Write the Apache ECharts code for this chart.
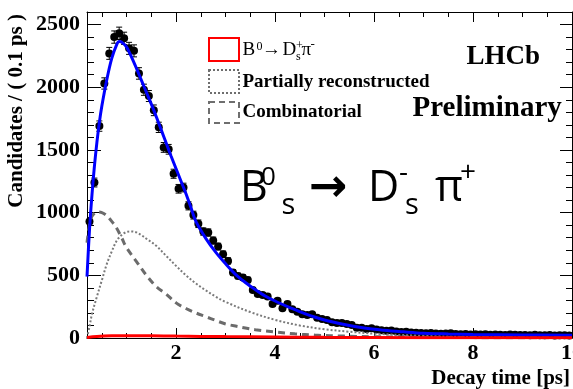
<!DOCTYPE html>
<html><head><meta charset="utf-8">
<script src="https://cdn.jsdelivr.net/npm/echarts@6/dist/echarts.min.js"></script>
<style>html,body{margin:0;padding:0;background:#fff}#c{width:573px;height:389px}</style>
</head><body><div id="c"></div>
<script>
// ---- data ----
const binWidth = 0.1;
const firstBinCenter = 0.25;
const dataCounts = [
  930,1240,1690,2030,2270,2400,2430,2390,2310,2290,
  2110,1980,1930,1816,1680,1520,1505,1310,1190,1200,
  1054,980,911,849,841,777,729,668,615,522,
  495,482,463,383,351,343,330,272,298,237,
  272,229,210,189,184,189,162,152,144,125,
  120,120,112,104,82,82,72,77,67,62,
  58,60,52,48,50,44,42,40,38,40,
  36,33,35,38,31,30,32,28,29,27,
  30,25,27,26,24,28,25,23,24,22,
  25,21,22,23,20,21,22,20
];
const fitT = [0.2,0.25,0.3,0.35,0.4,0.45,0.5,0.6,0.7,0.8,0.85,0.9,1.0,1.1,1.2,1.3,1.4,1.5,1.6,1.7,1.8,1.9,2.0,2.1,2.2,2.3,2.4,2.6,2.8,3.0,3.2,3.4,3.6,3.8,4.0,4.3,4.6,5.0,5.4,5.8,6.2,6.6,7.0,7.5,8.0,9.0,10.0];
const fitY = [490,860,1140,1370,1560,1720,1850,2060,2230,2340,2365,2360,2320,2240,2150,2055,1960,1865,1765,1660,1555,1450,1350,1250,1150,1040,930,795,685,592,508,443,386,335,295,243,195,144,108,80,62,49,38,32,28,24,22];
const partT = [0.2,0.25,0.3,0.4,0.5,0.6,0.7,0.8,0.9,1.0,1.1,1.2,1.3,1.4,1.6,1.8,2.0,2.2,2.4,2.6,2.8,3.0,3.5,4.0,4.5,5.0,5.5,6.0,7.0,8.0,9.0,10.0];
const partY = [0,90,190,330,460,590,690,775,822,845,850,842,820,792,735,655,575,500,435,380,330,288,207,145,100,70,50,35,17,8,4,2];
const combT = [0.2,0.25,0.3,0.4,0.5,0.6,0.7,0.8,0.9,1.0,1.2,1.4,1.6,1.8,2.0,2.2,2.4,2.6,2.8,3.0,3.2,3.4,3.6,4.0,4.4,4.8,5.4,6.0,7.0,8.0,10.0];
const combY = [760,900,970,1005,1000,975,930,875,800,720,610,500,410,350,280,235,200,170,140,112,95,80,66,48,33,23,15,10,5,3,1];
const sigT = [0.2,0.4,0.7,1.0,1.5,2.0,3.0,4.0,5.0,6.0,8.0,10.0];
const sigY = [4,12,17,18,17,15,11,8,5,4,2,1];
const xMajorTicks = [2,4,6,8,10];
const xMinorTicks = [0.5,1,1.5,2.5,3,3.5,4.5,5,5.5,6.5,7,7.5,8.5,9,9.5];
const yMajorTicks = [0,500,1000,1500,2000,2500];
const yMinorTicks = [100,200,300,400,600,700,800,900,1100,1200,1300,1400,1600,1700,1800,1900,2100,2200,2300,2400];

// ---- build ----
const serif = '"Liberation Serif","Times New Roman",serif';
const sans = '"Open Sans","Noto Sans",sans-serif';
const binCenters = dataCounts.map((_, i) => +(firstBinCenter + binWidth * i).toFixed(2));
const points = binCenters.map((t, i) => [t, dataCounts[i]]);
const pair = (xs, ys) => xs.map((x, i) => [x, ys[i]]);
const plain = v => String(v);

function xAx(pos, ticks, len, withLabels, line) {
  return {
    type: 'value', min: 0.2, max: 10, position: pos,
    axisLine: { show: line, onZero: false, lineStyle: { color: '#000', width: 1 } },
    axisTick: { show: true, inside: true, length: len, customValues: ticks, lineStyle: { color: '#000', width: 1 } },
    axisLabel: withLabels ? { show: true, customValues: xMajorTicks, formatter: plain, color: '#000', fontFamily: serif, fontWeight: 'bold', fontSize: 22, margin: 4 } : { show: false },
    splitLine: { show: false }, minorTick: { show: false }
  };
}
function yAx(pos, ticks, len, withLabels, line) {
  return {
    type: 'value', min: 0, max: 2600, position: pos,
    axisLine: { show: line, onZero: false, lineStyle: { color: '#000', width: 1 } },
    axisTick: { show: true, inside: true, length: len, customValues: ticks, lineStyle: { color: '#000', width: 1 } },
    axisLabel: withLabels ? { show: true, customValues: yMajorTicks, formatter: plain, color: '#000', fontFamily: serif, fontWeight: 'bold', fontSize: 22, margin: 7 } : { show: false },
    splitLine: { show: false }, minorTick: { show: false }
  };
}

const chart = echarts.init(document.getElementById('c'), null, { renderer: 'canvas' });

function txt(x, y, text, font, opts) {
  return Object.assign({ type: 'text', x: x, y: y, silent: true, z: 100,
    style: Object.assign({ text: text, font: font, fill: '#000', align: 'left', verticalAlign: 'middle' }, (opts && opts.style) || {}) },
    (opts && opts.el) || {});
}

const graphics = [
  // axis titles
  txt(17, 14, 'Candidates / ( 0.1 ps )', 'bold 21px ' + serif, { style: { align: 'right' }, el: { rotation: Math.PI / 2 } }),
  txt(570, 378.5, 'Decay time [ps]', 'bold 21px ' + serif, { style: { align: 'right' } }),
  // LHCb Preliminary
  txt(466.5, 57, 'LHCb', 'bold 27px ' + serif),
  txt(412.5, 108.2, 'Preliminary', 'bold 29px ' + serif),
  // legend boxes
  { type: 'rect', shape: { x: 209, y: 38, width: 30, height: 23 }, style: { fill: 'none', stroke: '#ff0000', lineWidth: 2 }, z: 100 },
  { type: 'rect', shape: { x: 209, y: 70, width: 30, height: 23 }, style: { fill: 'none', stroke: '#6e6e6e', lineWidth: 2, lineDash: [2, 2] }, z: 100 },
  { type: 'rect', shape: { x: 209, y: 102, width: 30, height: 21 }, style: { fill: 'none', stroke: '#6e6e6e', lineWidth: 2, lineDash: [6, 4] }, z: 100 },
  // legend labels
  txt(242.5, 50.5, 'B', '19px ' + serif),
  txt(256.5, 46.7, '0', '12px ' + serif),
  txt(262, 50, '→', '19px ' + serif),
  txt(282.5, 50.5, 'D', '19px ' + serif),
  txt(296, 46, '+', '12px ' + serif),
  txt(296, 57, 's', '12px ' + serif),
  txt(301.5, 50.5, 'π', '19px ' + serif),
  txt(310.5, 45, '-', '13px ' + serif),
  txt(242.5, 82, 'Partially reconstructed', 'bold 19px ' + serif),
  txt(242.5, 112, 'Combinatorial', 'bold 19px ' + serif),
  // decay label
  txt(240, 188.5, 'B', '43px ' + sans),
  txt(261, 177.5, '0', '26px ' + sans),
  txt(281.5, 205.5, 's', '29px ' + sans),
  txt(309, 189, '→', 'bold 46px "DejaVu Sans",sans-serif'),
  txt(368, 188.5, 'D', '43px ' + sans),
  txt(399, 173.5, '-', '28px ' + sans),
  txt(405, 205.5, 's', '29px ' + sans),
  txt(435, 188.5, 'π', '43px ' + sans),
  txt(460, 173, '+', '28px ' + sans)
];

chart.setOption({
  animation: false,
  backgroundColor: '#fff',
  grid: { left: 87, right: 1, top: 12, bottom: 51, containLabel: false, outerBoundsMode: 'none' },
  xAxis: [
    xAx('bottom', xMajorTicks, 10, true, true),
    xAx('bottom', xMinorTicks, 5, false, false),
    xAx('top', xMajorTicks, 10, false, true),
    xAx('top', xMinorTicks, 5, false, false)
  ],
  yAxis: [
    yAx('left', yMajorTicks, 14, true, true),
    yAx('left', yMinorTicks, 7, false, false),
    yAx('right', yMajorTicks, 12, false, true),
    yAx('right', yMinorTicks, 6, false, false)
  ],
  series: [
    {
      type: 'custom', name: 'errors', xAxisIndex: 0, yAxisIndex: 0, clip: true, z: 2,
      data: points, encode: { x: 0, y: 1 },
      renderItem: function (params, api) {
        const x = api.value(0), y = api.value(1), e = Math.sqrt(y);
        const top = api.coord([x, y + e]), bot = api.coord([x, y - e]);
        const st = { stroke: '#000', lineWidth: 1 };
        return { type: 'group', children: [
          { type: 'line', shape: { x1: top[0], y1: top[1], x2: bot[0], y2: bot[1] }, style: st },
          { type: 'line', shape: { x1: top[0] - 3, y1: top[1], x2: top[0] + 3, y2: top[1] }, style: st },
          { type: 'line', shape: { x1: bot[0] - 3, y1: bot[1], x2: bot[0] + 3, y2: bot[1] }, style: st }
        ] };
      }
    },
    { type: 'scatter', name: 'Data', data: points, symbol: 'circle', symbolSize: 8, itemStyle: { color: '#000', opacity: 1 }, z: 3 },
    { type: 'line', name: 'Partially reconstructed', data: pair(partT, partY), smooth: 0.35, showSymbol: false, lineStyle: { color: '#7a7a7a', width: 2, type: [2, 2] }, z: 4 },
    { type: 'line', name: 'Combinatorial', data: pair(combT, combY), smooth: 0.35, showSymbol: false, lineStyle: { color: '#6b6b6b', width: 3, type: [7, 5] }, z: 4 },
    { type: 'line', name: 'Fit', data: pair(fitT, fitY), smooth: 0.35, showSymbol: false, lineStyle: { color: '#0000ff', width: 3 }, z: 5 },
    { type: 'line', name: 'B0 → Ds+ π-', data: pair(sigT, sigY), smooth: 0.35, showSymbol: false, lineStyle: { color: '#ff0000', width: 3 }, z: 6 }
  ],
  graphic: graphics
});
</script>
</body></html>
